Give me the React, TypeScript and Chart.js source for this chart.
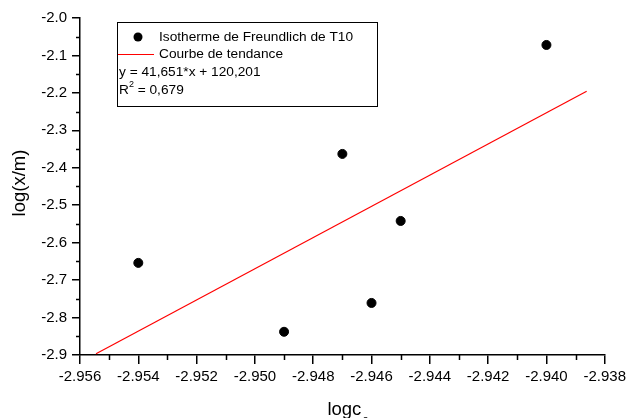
import React, { useEffect, useRef } from 'react';
import { Chart, registerables } from 'chart.js';

Chart.register(...registerables);

// ---- data ----
const pointX = [-2.954, -2.949, -2.947, -2.946, -2.945, -2.94];
const pointY = [-2.654, -2.838, -2.363, -2.761, -2.542, -2.072];
const trendX = [-2.95545, -2.93862];
const trendY = [-2.8965, -2.1955];
const xMin = -2.956;
const xMax = -2.938;
const xStep = 0.002;
const xMinorStep = 0.001;
const yMin = -2.9;
const yMax = -2.0;
const yStep = 0.1;
const yMinorStep = 0.05;
const seriesLabels = ['Isotherme de Freundlich de T10', 'Courbe de tendance'];
const equationText = 'y = 41,651*x + 120,201';
const r2Label = 'R';
const r2Sup = '2';
const r2Value = ' = 0,679';
const xTitle = 'logc';
const xTitleSub = 'e';
const yTitle = 'log(x/m)';

const FONT = 'Arial, "Liberation Sans", sans-serif';

const overlayPlugin = {
  id: 'overlay',
  afterDraw(chart: any) {
    const ctx = chart.ctx as CanvasRenderingContext2D;
    const xs = chart.scales.x;
    const ys = chart.scales.y;
    const ca = chart.chartArea;
    ctx.save();
    // minor ticks
    ctx.strokeStyle = '#000';
    ctx.lineWidth = 1.5;
    ctx.beginPath();
    const nx = Math.round((xMax - xMin) / xMinorStep);
    for (let i = 1; i < nx; i += 2) {
      const px = Math.round(xs.getPixelForValue(xMin + i * xMinorStep)) + 0.5;
      ctx.moveTo(px, ca.bottom);
      ctx.lineTo(px, ca.bottom + 5);
    }
    const ny = Math.round((yMax - yMin) / yMinorStep);
    for (let i = 1; i < ny; i += 2) {
      const py = Math.round(ys.getPixelForValue(yMin + i * yMinorStep)) + 0.5;
      ctx.moveTo(ca.left, py);
      ctx.lineTo(ca.left - 4, py);
    }
    ctx.stroke();

    // legend box
    const bx = ca.left + 37;
    const by = ca.top + 4;
    const bw = 260;
    const bh = 84;
    ctx.fillStyle = '#fff';
    ctx.fillRect(bx, by, bw, bh);
    ctx.strokeStyle = '#000';
    ctx.lineWidth = 1;
    ctx.strokeRect(bx + 0.5, by + 0.5, bw, bh);

    ctx.font = `13.7px ${FONT}`;
    ctx.textBaseline = 'middle';
    ctx.textAlign = 'left';
    ctx.fillStyle = '#000';
    // series 1
    ctx.beginPath();
    ctx.arc(bx + 21, by + 15, 4.5, 0, Math.PI * 2);
    ctx.fill();
    ctx.fillText(seriesLabels[0], bx + 42, by + 15);
    // series 2
    ctx.strokeStyle = '#ff0000';
    ctx.lineWidth = 1;
    ctx.beginPath();
    ctx.moveTo(bx + 1, by + 32.5);
    ctx.lineTo(bx + 37, by + 32.5);
    ctx.stroke();
    ctx.fillText(seriesLabels[1], bx + 42, by + 32);
    // equation
    ctx.fillText(equationText, bx + 2, by + 50);
    // R²
    ctx.fillText(r2Label, bx + 2, by + 68);
    const rw = ctx.measureText(r2Label).width;
    ctx.font = `9px ${FONT}`;
    ctx.fillText(r2Sup, bx + 2 + rw, by + 63);
    const sw = ctx.measureText(r2Sup).width;
    ctx.font = `13.7px ${FONT}`;
    ctx.fillText(r2Value, bx + 2 + rw + sw, by + 68);

    // x title
    ctx.font = `18.5px ${FONT}`;
    ctx.textBaseline = 'alphabetic';
    const tw = ctx.measureText(xTitle).width;
    const cx = (ca.left + ca.right) / 2 + 2;
    const startX = cx - tw / 2;
    ctx.fillText(xTitle, startX, 415);
    ctx.font = `12px ${FONT}`;
    ctx.fillText(xTitleSub, startX + tw + 1, 424);

    // y title
    ctx.font = `18.5px ${FONT}`;
    ctx.textAlign = 'center';
    ctx.textBaseline = 'middle';
    ctx.translate(20, 183);
    ctx.rotate(-Math.PI / 2);
    ctx.fillText(yTitle, 0, 0);
    ctx.restore();
  },
};

export default function App() {
  const ref = useRef<HTMLCanvasElement | null>(null);
  useEffect(() => {
    if (!ref.current) return;
    const chart = new Chart(ref.current, {
      type: 'scatter',
      data: {
        datasets: [
          {
            label: seriesLabels[0],
            data: pointX.map((x, i) => ({ x, y: pointY[i] })),
            backgroundColor: '#000',
            borderColor: '#000',
            pointRadius: 4.5,
            showLine: false,
          },
          {
            label: seriesLabels[1],
            data: trendX.map((x, i) => ({ x, y: trendY[i] })),
            borderColor: '#ff0000',
            borderWidth: 1.2,
            pointRadius: 0,
            showLine: true,
          },
        ],
      },
      options: {
        responsive: false,
        animation: false,
        layout: { padding: { left: 0, top: 18, right: 23, bottom: 0 } },
        plugins: { legend: { display: false }, tooltip: { enabled: false } },
        scales: {
          x: {
            type: 'linear',
            min: xMin,
            max: xMax,
            afterFit: (s: any) => {
              s.height = 63;
            },
            afterBuildTicks: (s: any) => {
              const t = [];
              const n = Math.round((xMax - xMin) / xStep);
              for (let i = 0; i <= n; i++) t.push({ value: xMin + i * xStep });
              s.ticks = t;
            },
            ticks: {
              callback: (v: any) => Number(v).toFixed(3),
              font: { family: FONT, size: 15 },
              color: '#000',
              padding: 4,
              maxRotation: 0,
              autoSkip: false,
            },
            grid: {
              drawOnChartArea: false,
              drawTicks: true,
              tickLength: 9,
              color: '#000',
              lineWidth: 1.5,
            },
            border: { display: true, color: '#000', width: 1.5 },
          },
          y: {
            type: 'linear',
            min: yMin,
            max: yMax,
            afterFit: (s: any) => {
              s.width = 80;
            },
            afterBuildTicks: (s: any) => {
              const t = [];
              const n = Math.round((yMax - yMin) / yStep);
              for (let i = 0; i <= n; i++) t.push({ value: yMin + i * yStep });
              s.ticks = t;
            },
            ticks: {
              callback: (v: any) => Number(v).toFixed(1),
              font: { family: FONT, size: 15 },
              color: '#000',
              padding: 5,
              autoSkip: false,
            },
            grid: {
              drawOnChartArea: false,
              drawTicks: true,
              tickLength: 8,
              color: '#000',
              lineWidth: 1.5,
            },
            border: { display: true, color: '#000', width: 1.5 },
          },
        },
      },
      plugins: [overlayPlugin],
    });
    return () => chart.destroy();
  }, []);
  return (
    <div style={{ position: 'absolute', left: 0, top: 0, width: 630, height: 418, background: '#fff' }}>
      <canvas ref={ref} width={630} height={418} style={{ display: 'block' }} />
    </div>
  );
}
